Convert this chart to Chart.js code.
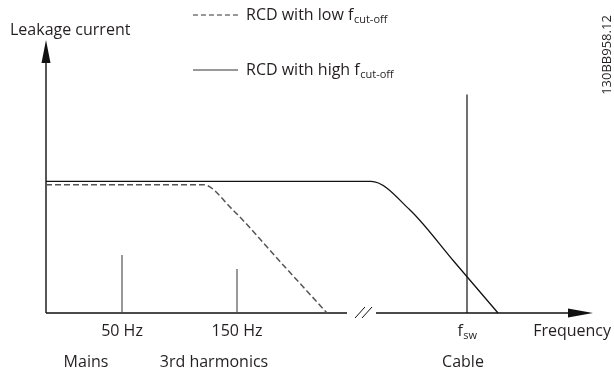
<!DOCTYPE html>
<html>
<head>
<meta charset="utf-8">
<script src="https://cdn.jsdelivr.net/npm/chart.js@4/dist/chart.umd.min.js"></script>
<style>
  html, body { margin: 0; padding: 0; background: #fff; }
  #wrap { width: 614px; height: 369px; position: relative; }
</style>
</head>
<body>
<div id="wrap"><canvas id="chart"></canvas></div>
<script>
// Leakage current vs frequency (arbitrary units, x axis has a break)
const highCutX = [0, 65, 72.8, 81.6, 90.4];
const highCutY = [48.2, 48.2, 37.7, 18.85, 0];
const lowCutX = [0, 31.4, 37.4, 46.8, 56.2];
const lowCutY = [47, 47, 37.7, 18.85, 0];

// Spectral lines: mains, 3rd harmonic, switching frequency
const spikeX = [15.2, 38.2, 84.2];
const spikeY = [21.2, 16.1, 80];
const spikeColors = ["#555", "#555", "#111"];
const spikeLabels = ["50 Hz", "150 Hz", "f"];
const spikeSubs = ["", "", "sw"];

// Group labels under the axis
const groupLabels = ["Mains", "3rd harmonics", "Cable"];
const groupX = [8, 33.6, 83.4];

const legendLabels = ["RCD with low f", "RCD with high f"];
const legendSub = "cut-off";

const xMax = 110, yMax = 100;
const xArrowEnd = 109.4;
const breakFrom = 60.2, breakTo = 66;

const FONT = '"Open Sans", sans-serif';
const TEXT = '#231f20';

function pts(xs, ys) { return xs.map((v, i) => ({ x: v, y: ys[i] })); }

const spikeSets = spikeX.map((sx, i) => ({
    data: [{ x: sx, y: 0 }, { x: sx, y: spikeY[i] }],
    borderColor: spikeColors[i],
    borderWidth: 1.2,
    pointRadius: 0,
    tension: 0
}));

// Draws text with a subscript part
function subText(ctx, main, sub, x, y, align, size, subSize) {
    ctx.font = size + 'px ' + FONT;
    const w1 = ctx.measureText(main).width;
    ctx.font = subSize + 'px ' + FONT;
    const w2 = sub ? ctx.measureText(sub).width : 0;
    let start = x;
    if (align === 'center') start = x - (w1 + w2) / 2;
    ctx.textAlign = 'left';
    ctx.textBaseline = 'middle';
    ctx.font = size + 'px ' + FONT;
    ctx.fillText(main, start, y);
    if (sub) {
        ctx.font = subSize + 'px ' + FONT;
        ctx.fillText(sub, start + w1 + 0.5, y + 5);
    }
}

// Axes with arrow heads and a break mark on the frequency axis
const axisPlugin = {
    id: 'axes',
    beforeDatasetsDraw(chart) {
        const { ctx, scales: { x, y } } = chart;
        const x0 = x.getPixelForValue(0), y0 = y.getPixelForValue(0);
        const yTop = y.getPixelForValue(yMax), xEnd = x.getPixelForValue(xArrowEnd);
        const b1 = x.getPixelForValue(breakFrom), b2 = x.getPixelForValue(breakTo);
        ctx.save();
        ctx.strokeStyle = '#111';
        ctx.fillStyle = '#111';
        ctx.lineWidth = 1.4;
        ctx.beginPath();
        ctx.moveTo(x0, y0); ctx.lineTo(x0, yTop + 20);
        ctx.moveTo(x0, y0); ctx.lineTo(b1, y0);
        ctx.moveTo(b2, y0); ctx.lineTo(xEnd - 20, y0);
        ctx.stroke();
        // arrow heads
        ctx.beginPath();
        ctx.moveTo(x0, yTop); ctx.lineTo(x0 - 4.5, yTop + 23); ctx.lineTo(x0 + 4.5, yTop + 23); ctx.closePath();
        ctx.moveTo(xEnd, y0); ctx.lineTo(xEnd - 25, y0 - 4.5); ctx.lineTo(xEnd - 25, y0 + 4.5); ctx.closePath();
        ctx.fill();
        // break "//"
        ctx.lineWidth = 1;
        ctx.beginPath();
        ctx.moveTo(b1 + 8, y0 + 5); ctx.lineTo(b1 + 18, y0 - 6);
        ctx.moveTo(b1 + 15, y0 + 5); ctx.lineTo(b1 + 25, y0 - 6);
        ctx.stroke();
        ctx.restore();
    },
    afterDatasetsDraw(chart) {
        const { ctx, scales: { x, y } } = chart;
        const y0 = y.getPixelForValue(0);
        ctx.save();
        ctx.fillStyle = TEXT;
        // axis titles
        ctx.font = '16px ' + FONT;
        ctx.textBaseline = 'middle';
        ctx.textAlign = 'left';
        ctx.fillText('Leakage current', 10, 30);
        ctx.textAlign = 'right';
        ctx.fillText('Frequency', 611, y0 + 18);
        // spike labels
        spikeX.forEach((sx, i) => {
            subText(ctx, spikeLabels[i], spikeSubs[i], x.getPixelForValue(sx), y0 + 18, 'center', 16, 11);
        });
        ctx.font = '16px ' + FONT;
        ctx.textAlign = 'center';
        groupLabels.forEach((g, i) => ctx.fillText(g, x.getPixelForValue(groupX[i]), y0 + 49));
        // legend
        const lx = 193, lx2 = 238;
        const ly = [15, 70];
        ctx.strokeStyle = '#333';
        ctx.lineWidth = 1;
        ctx.setLineDash([5, 3]);
        ctx.beginPath(); ctx.moveTo(lx, ly[0]); ctx.lineTo(lx2, ly[0]); ctx.stroke();
        ctx.setLineDash([]);
        ctx.beginPath(); ctx.moveTo(lx, ly[1]); ctx.lineTo(lx2, ly[1]); ctx.stroke();
        legendLabels.forEach((l, i) => subText(ctx, l, legendSub, 246, ly[i], 'left', 16, 11));
        // figure id, rotated
        ctx.translate(607, 55);
        ctx.rotate(-Math.PI / 2);
        ctx.font = '13px ' + FONT;
        ctx.textAlign = 'center';
        ctx.fillText('130BB958.12', 0, 0);
        ctx.restore();
    }
};

new Chart(document.getElementById('chart'), {
    type: 'line',
    data: {
        datasets: [
            {
                data: pts(lowCutX, lowCutY),
                borderColor: '#555',
                borderWidth: 1.5,
                borderDash: [6, 3],
                pointRadius: 0,
                cubicInterpolationMode: 'monotone'
            },
            {
                data: pts(highCutX, highCutY),
                borderColor: '#111',
                borderWidth: 1.3,
                pointRadius: 0,
                cubicInterpolationMode: 'monotone'
            },
            ...spikeSets
        ]
    },
    options: {
        responsive: true,
        maintainAspectRatio: false,
        animation: false,
        clip: false,
        layout: { padding: { left: 46, right: 18, top: 40, bottom: 56 } },
        plugins: { legend: { display: false }, tooltip: { enabled: false } },
        scales: {
            x: { type: 'linear', min: 0, max: xMax, display: false },
            y: { type: 'linear', min: 0, max: yMax, display: false }
        }
    },
    plugins: [axisPlugin]
});
</script>
</body>
</html>
